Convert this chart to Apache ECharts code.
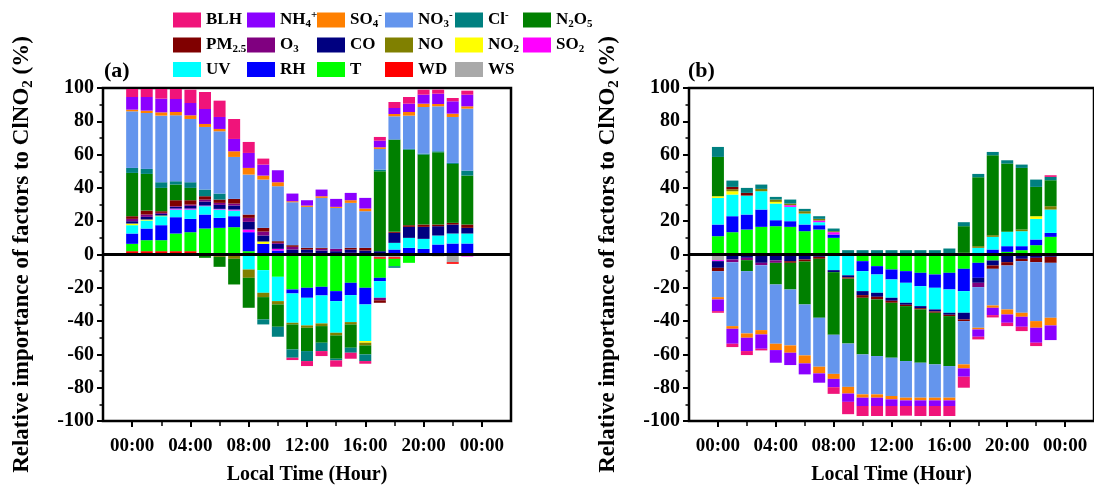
<!DOCTYPE html>
<html>
<head>
    <meta charset="utf-8">
    <title>Relative importance of factors to ClNO2</title>
    <script src="https://cdn.jsdelivr.net/npm/echarts@6/dist/echarts.min.js"></script>
    <style>
        html, body {
            margin: 0;
            padding: 0;
            background: #fff;
        }

        #chart {
            width: 1094px;
            height: 490px;
        }
    </style>
</head>
<body>
<div id="chart"></div>
<script>
    // hour of day for each bar
    var hours = [0, 1, 2, 3, 4, 5, 6, 7, 8, 9, 10, 11, 12, 13, 14, 15, 16, 17, 18, 19, 20, 21, 22, 23];
    var tickHours = [0, 4, 8, 12, 16, 20, 24];
    var minorHours = [2, 6, 10, 14, 18, 22];

    // panel (a), relative importance (%) per factor and hour
    var aWS   = [0.8, 0.8, 0.8, 0.8, 0.8, 0, 0, 0, 0, 0, 0, 0, 0, 0, 0, 0, 0, -1.6, -1.6, 0, 0, 0, -4.6, 0];
    var aWD   = [1.2, 1.2, 1.2, 1.2, 1.2, 0, 0, 0, 0, 0, 0, 0, 0, 0, 0, 0, 0, -1, -1, 0, 0, 0, -1, 0];
    var aT    = [4.4, 6.6, 6.6, 10.6, 11.4, 15.6, 16, 16.4, 2, -9.4, -13.4, -21, -20, -19.4, -22, -17, -20, -11.4, -4.4, -5, 0, 0, 0, 0];
    var aRH   = [6.2, 7, 9, 9.8, 8, 8.4, 6, 6.6, 11.4, 6.4, 2.4, -2.4, -6, -5.2, -6, -7.4, -10, -2, 3, 4, 3.4, 6, 6.6, 6.6];
    var aUV   = [5, 4.8, 5.4, 4.6, 5.6, 5, 5, 3.4, -9, -13.6, -14.6, -17.6, -16.6, -16.8, -19, -16.2, -22, -10, 4, 6, 6, 5.4, 6, 6];
    var aSO2  = [0, 0, 0, 0.6, 0.6, 0.4, 0.4, 0.6, 1.6, 0, 1, 0, 1, 0, 0, 1, 0, 0, 0, 0, 0, 0, 0, -1.2];
    var aNO2  = [1, 0.6, 0.4, 0, 0, 0, 0, 0, 0, 1.4, 0, 0, 0, 0, 0, 0, -1, 0, 0, 0, 0, 0, 0, 0];
    var aNO   = [0, 0, 0, 0, 0, 0, -1.4, -2.6, -5, -2.6, -2, -1, -1.4, -1.6, -1.6, -1.4, -1.6, 0, 0, 0, 0, -1, 0, 0];
    var aCO   = [1.4, 1.6, 1, 1, 1.6, 2.4, 2.4, 2.4, 4.6, 3.6, 3, 3, 2, 2.4, 2, 2, 2.4, 2, 6, 6.6, 7.2, 5.6, 5.4, 3.4];
    var aO3   = [1.4, 1.4, 0.6, 0.4, 0.8, 1.2, 1.2, 1.2, 2.4, 2.4, 0.6, 1.6, 0, 1, 1.4, 0, 0, -1.5, 0, 0, 0, 0, 0, 0];
    var aPM25 = [1.6, 2.4, 1, 3.6, 2.6, 2, 2, 2.8, 2, 2.2, 1, 1, 1, 0.6, 0, 1, 1.6, -1.5, 0.6, 1, 1.4, 1, 1, 2];
    var aN2O5 = [26, 22, 14, 9.4, 7.4, -2, -6, -15.4, -18, -13.4, -13.4, -15, -14, -10, -14, -14, -5.4, 48, 55.4, 45.4, 42, 43.4, 35.4, 29.4];
    var aCl   = [3, 3, 3.4, 2, 3.4, 4, 3.6, 0, 0, -3, -6, -5, -6, -5, -1, -3, -4, 1, -1, 0.4, 0.6, 0.6, 0.6, 3];
    var aNO3  = [34, 33.6, 40, 39.6, 38, 37.6, 37.4, 25.2, 24, 29, 33, 25.8, 24.6, 30, 24.6, 27, 22, 12.4, 14, 20, 28, 27, 27.6, 37.2];
    var aSO4  = [1, 1.4, 2, 2, 2.2, 1.8, 1.4, 3.4, 4, 2.4, 2.4, 0.6, 0.8, 1, 0.6, 1.6, 1.6, 1, 1.4, 2.2, 2, 1.4, 2, 1.4];
    var aNH4  = [7.6, 8.2, 8.2, 7.8, 7.4, 9, 7.2, 7.4, 9, 6.6, 7.2, 4.6, 3.2, 4, 4.8, 4.4, 6.4, 4, 3.6, 5, 5.4, 6.2, 7.4, 7];
    var aBLH  = [4.8, 4.8, 5.8, 6, 8, 10.2, 9.8, 12, 6.6, 3.6, 0, -1.4, -3, -3, -3.8, -3.6, -1.6, 2.2, 3.6, 4, 3, 2.4, 2, 2.4];

    // panel (b)
    var bWS   = [-3.4, 0, 0, 0, 0, 0, 0, 0, 0, 0, 0, 0, 0, 0, 0, 0, 0, 0, 0, 0, 0, 0, 0, 0];
    var bWD   = [0, 0, 0, 0, 0, 0, 0, 0, 0, 0, 0, 0, 0, 0, 0, 0, 0, 0, 0, 0, 0, 0, 0, 0];
    var bT    = [11, 13.4, 15, 16.6, 17, 16.6, 14, 15, 10, 0, -4, -7, -9, -10, -11, -12, -11, -8.6, -5, -3.6, 1.6, 2.6, 5.6, 10.6];
    var bRH   = [7, 9.6, 9, 10.4, 3.6, 3.4, 4, 2.6, 2, 0, -6, -5, -6, -7, -8, -8, -10, -13.4, -9, 3, 3.4, 2.4, 3.4, 2.4];
    var bUV   = [16, 13, 11.4, 11, 10, 8.6, 6.6, 1.8, -9.4, -12.5, -12, -11, -11, -12, -12, -13, -14, -13, 4, 7.6, 8.6, 9, 12.4, 14];
    var bSO2  = [-0.6, 0, 0, 0, 0, 1, 0, 1, 1.4, 0, 0, 0, 0, 0, 0, 0, 0, 0, 0, 0, 0, 0, 0, 0];
    var bNO2  = [1, 2, 0, 0, 1, 0, 0, 0, 0, 0, 0, 0, 0, 0, 0, 0, 0, 0, 0, 0, 0, 0, 1.6, 0];
    var bNO   = [0, 1.2, 0, 1.4, 1.4, 1, 1.4, 1, 0.6, 0.6, 0.6, 0.6, 0.6, 0.6, 0.6, 0.6, 0.6, 1, 1, 1, 0, 1, 0, 2];
    var bCO   = [-4, -3, -2, -5, -3.6, -4, -3, -1.4, -1.2, -1.2, -2.4, -2.4, -1.8, -1.2, -1.2, -1.2, -1.2, -4, -3, -3, -4.6, -2.6, -2, -1.4];
    var bO3   = [0, -1.6, -1.4, -1.4, -1.4, 0, 0, 0, 0, 0, 0, 0, 0, 0, 0, 0, 0, 0, -2.6, 0, 0, 0, 0, 0];
    var bPM25 = [-2, 1.4, 1.6, 0, 0, -1, -1.2, -1.2, 0, -0.8, -1.6, -1.6, -1.2, -0.8, -0.8, -0.8, -0.8, -1, 0, -2, -2, -1.4, -2.6, -3.6];
    var bN2O5 = [23.6, 0, -6.6, 0, -13, -16, -25.8, -35.4, -37.6, -39, -34, -34, -33, -33, -32, -31, -30, 16, 41.4, 48, 41, 37, 17.6, 15.6];
    var bCl   = [6, 3.8, 3, 2.6, 1.6, 2.4, 1.4, 1.6, 1.6, 2, 2, 2, 2, 2, 2, 2, 3, 2.4, 2, 2, 2, 2, 4.4, 2];
    var bNO3  = [-15.6, -38.4, -37.4, -39, -35.6, -33.6, -30.6, -29.4, -23.5, -26, -24, -23, -23, -22, -21, -20, -19, -26, -24.4, -22, -26.4, -31, -35.4, -33];
    var bSO4  = [-1.4, -1.6, -2.6, -2.6, -3.8, -4.4, -4.8, -4, -3, -4, -2, -2, -2, -1.6, -1.6, -1.6, -1.6, -2.4, -1, -1.4, -3, -2.4, -4, -4.6];
    var bNH4  = [-7, -9, -8, -8.6, -7.6, -7.4, -6.6, -5.6, -5, -5, -5, -5, -4, -3.4, -3.4, -3.4, -3.4, -5, -4.4, -4.4, -5, -6, -9, -8.8];
    var bBLH  = [-1, -2, -2.4, -1, 0, 0, 0, 0, -4, -7.4, -6, -6, -6, -5.8, -6, -6, -6, -6.6, -1.6, -1.4, -2, -2.6, -2, 1];

    // bottom-to-top stacking order
    var stackOrder = ['WS', 'WD', 'T', 'RH', 'UV', 'SO2', 'NO2', 'NO', 'CO', 'O3', 'PM2.5', 'N2O5', 'Cl-', 'NO3-', 'SO4-', 'NH4+', 'BLH'];
    var panelA = {
        'WS': aWS, 'WD': aWD, 'T': aT, 'RH': aRH, 'UV': aUV, 'SO2': aSO2, 'NO2': aNO2, 'NO': aNO, 'CO': aCO,
        'O3': aO3, 'PM2.5': aPM25, 'N2O5': aN2O5, 'Cl-': aCl, 'NO3-': aNO3, 'SO4-': aSO4, 'NH4+': aNH4, 'BLH': aBLH
    };
    var panelB = {
        'WS': bWS, 'WD': bWD, 'T': bT, 'RH': bRH, 'UV': bUV, 'SO2': bSO2, 'NO2': bNO2, 'NO': bNO, 'CO': bCO,
        'O3': bO3, 'PM2.5': bPM25, 'N2O5': bN2O5, 'Cl-': bCl, 'NO3-': bNO3, 'SO4-': bSO4, 'NH4+': bNH4, 'BLH': bBLH
    };

    var colors = {
        'BLH': '#f0147a', 'NH4+': '#8b00ff', 'SO4-': '#ff8000', 'NO3-': '#6495ed', 'Cl-': '#008080', 'N2O5': '#008000',
        'PM2.5': '#800000', 'O3': '#800080', 'CO': '#000080', 'NO': '#808000', 'NO2': '#ffff00', 'SO2': '#ff00ff',
        'UV': '#00ffff', 'RH': '#0000ff', 'T': '#00ff00', 'WD': '#ff0000', 'WS': '#a9a9a9'
    };

    // legend labels with sub/superscripts
    var labels = {
        'BLH': 'BLH', 'NH4+': 'NH{sub|4}{sup|+}', 'SO4-': 'SO{sub|4}{sup|-}', 'NO3-': 'NO{sub|3}{sup|-}',
        'Cl-': 'Cl{sup|-}', 'N2O5': 'N{sub|2}O{sub|5}', 'PM2.5': 'PM{sub|2.5}', 'O3': 'O{sub|3}',
        'CO': 'CO', 'NO': 'NO', 'NO2': 'NO{sub|2}', 'SO2': 'SO{sub|2}', 'UV': 'UV', 'RH': 'RH',
        'T': 'T', 'WD': 'WD', 'WS': 'WS'
    };
    var legendOrder = ['BLH', 'NH4+', 'SO4-', 'NO3-', 'Cl-', 'N2O5', 'PM2.5', 'O3', 'CO', 'NO', 'NO2', 'SO2', 'UV', 'RH', 'T', 'WD', 'WS'];
    var legendCols = [173, 247, 317, 385, 455, 523];
    var legendRows = [10, 35, 59.5];

    var FONT = 'Liberation Serif';
    var subStyle = {fontFamily: FONT, fontWeight: 'bold', fontSize: 11, color: '#000', verticalAlign: 'bottom', lineHeight: 11};
    var supStyle = {fontFamily: FONT, fontWeight: 'bold', fontSize: 11, color: '#000', verticalAlign: 'top', lineHeight: 11};

    var legends = legendOrder.map(function (name, i) {
        return {
            data: [name],
            left: legendCols[i % 6],
            top: legendRows[Math.floor(i / 6)],
            padding: 0,
            icon: 'rect',
            itemWidth: 28,
            itemHeight: 15,
            selectedMode: false,
            formatter: function (n) { return labels[n]; },
            textStyle: {
                fontFamily: FONT, fontWeight: 'bold', fontSize: 17, color: '#000', lineHeight: 20,
                rich: {sub: subStyle, sup: supStyle}
            }
        };
    });

    function hourLabel(v) {
        var h = v % 24;
        return (h < 10 ? '0' : '') + h + ':00';
    }

    function makeAxes(gridIndex) {
        var main = {
            type: 'value', gridIndex: gridIndex, min: -2, max: 26, interval: 2,
            position: 'bottom',
            name: 'Local Time (Hour)', nameLocation: 'middle', nameGap: 44,
            nameTextStyle: {fontFamily: FONT, fontWeight: 'bold', fontSize: 20, color: '#000'},
            axisLine: {show: true, onZero: false, lineStyle: {color: '#000', width: 2}},
            axisTick: {show: true, length: 6, customValues: tickHours, lineStyle: {color: '#000', width: 2}},
            axisLabel: {
                customValues: tickHours, formatter: hourLabel, margin: 16,
                fontFamily: FONT, fontWeight: 'bold', fontSize: 19, color: '#000'
            },
            splitLine: {show: false}
        };
        // second axis, pulled down onto the bottom edge, only for short minor ticks
        var minor = {
            type: 'value', gridIndex: gridIndex, min: -2, max: 26, interval: 2,
            position: 'top', offset: -334,
            axisLine: {show: false, onZero: false},
            axisTick: {show: true, inside: true, length: 4, customValues: minorHours, lineStyle: {color: '#000', width: 1.5}},
            axisLabel: {show: false},
            splitLine: {show: false}
        };
        return [main, minor];
    }

    function makeYAxis(gridIndex) {
        return {
            type: 'value', gridIndex: gridIndex, min: -100, max: 100, interval: 20,
            name: 'Relative importance of factors to ClNO{sub|2} (%)',
            nameLocation: 'middle', nameGap: 67, nameRotate: 90,
            nameTextStyle: {
                fontFamily: FONT, fontWeight: 'bold', fontSize: 23, color: '#000', lineHeight: 27,
                rich: {sub: {fontFamily: FONT, fontWeight: 'bold', fontSize: 15, color: '#000', verticalAlign: 'bottom', lineHeight: 15}}
            },
            axisLine: {show: true, onZero: false, lineStyle: {color: '#000', width: 2}},
            axisTick: {show: true, length: 6, lineStyle: {color: '#000', width: 2}},
            minorTick: {show: true, splitNumber: 2, length: 3.5, lineStyle: {color: '#000', width: 1.5}},
            axisLabel: {margin: 9, fontFamily: FONT, fontWeight: 'bold', fontSize: 20, color: '#000'},
            splitLine: {show: false},
            minorSplitLine: {show: false}
        };
    }

    // value first in each row so the stack is taken on the y value
    function makeSeries(panel, xIdx, yIdx, stackName) {
        return stackOrder.map(function (f, k) {
            var s = {
                name: f,
                type: 'bar',
                xAxisIndex: xIdx,
                yAxisIndex: yIdx,
                stack: stackName,
                barWidth: 12,
                dimensions: ['value', 'hour'],
                encode: {x: 'hour', y: 'value'},
                itemStyle: {color: colors[f]},
                data: hours.map(function (h, i) { return [panel[f][i], h]; })
            };
            if (k === stackOrder.length - 1) {
                // heavy zero line across the panel
                s.markLine = {
                    silent: true,
                    symbol: ['none', 'none'],
                    label: {show: false},
                    lineStyle: {color: '#000', width: 3, type: 'solid'},
                    data: [{yAxis: 0}]
                };
            }
            return s;
        });
    }

    var chart = echarts.init(document.getElementById('chart'), null, {renderer: 'canvas'});

    var option = {
        animation: false,
        backgroundColor: '#fff',
        title: [
            {text: '(a)', left: 104, top: 60, padding: 0, textStyle: {fontFamily: FONT, fontWeight: 'bold', fontSize: 22, color: '#000'}},
            {text: '(b)', left: 688, top: 60, padding: 0, textStyle: {fontFamily: FONT, fontWeight: 'bold', fontSize: 22, color: '#000'}}
        ],
        legend: legends,
        grid: [
            {left: 103, top: 88, width: 408, height: 334, show: true, borderColor: '#000', borderWidth: 2.5, backgroundColor: 'transparent'},
            {left: 689, top: 88, width: 408, height: 334, show: true, borderColor: '#000', borderWidth: 2.5, backgroundColor: 'transparent'}
        ],
        xAxis: makeAxes(0).concat(makeAxes(1)),
        yAxis: [makeYAxis(0), makeYAxis(1)],
        series: makeSeries(panelA, 0, 0, 'a').concat(makeSeries(panelB, 2, 1, 'b'))
    };

    chart.setOption(option);
</script>
</body>
</html>
